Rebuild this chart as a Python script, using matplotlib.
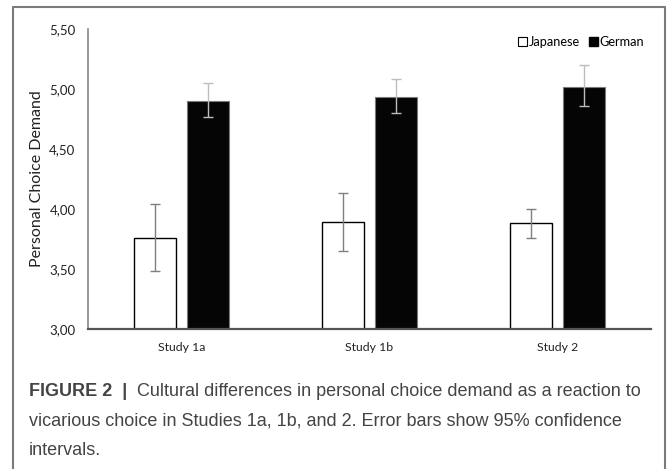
"""
Personal choice demand by culture (Figure 2 recreation).

Bar chart of Japanese vs German means with 95% CI error bars.
"""

import numpy as np
import matplotlib
matplotlib.use('Agg')
import matplotlib.pyplot as plt
from matplotlib.patches import Patch
from matplotlib.lines import Line2D

# Data
studies = ['Study 1a', 'Study 1b', 'Study 2']
japanese = [3.76, 3.89, 3.88]
japanese_lo = [3.48, 3.65, 3.76]
japanese_hi = [4.04, 4.13, 4.00]
german = [4.90, 4.93, 5.02]
german_lo = [4.77, 4.80, 4.86]
german_hi = [5.05, 5.08, 5.20]
yticks = [3.0, 3.5, 4.0, 4.5, 5.0, 5.5]
ytick_labels = ['3,00', '3,50', '4,00', '4,50', '5,00', '5,50']

caption_bold = 'FIGURE 2  |  '
caption_lines = [
    'Cultural differences in personal choice demand as a reaction to',
    'vicarious choice in Studies 1a, 1b, and 2. Error bars show 95% confidence',
    'intervals.',
]

W, H = 668, 469
CHART_FONT = 'Lato'
CAPTION_FONT = 'Liberation Sans'


def main():
    fig = plt.figure(figsize=(W / 100, H / 100), dpi=100)

    # axes placed in pixel terms
    left, right, top, bottom = 88, 651, 29, 329
    ax = fig.add_axes([left / W, 1 - bottom / H, (right - left) / W, (bottom - top) / H])

    x = np.arange(len(studies))
    width = 0.224
    offset = 0.141

    jp = np.array(japanese)
    de = np.array(german)
    jp_err = [jp - np.array(japanese_lo), np.array(japanese_hi) - jp]
    de_err = [de - np.array(german_lo), np.array(german_hi) - de]

    ax.bar(x - offset, jp, width, color='white', edgecolor='black',
           linewidth=1.0, zorder=2)
    ax.bar(x + offset, de, width, color='#050505', edgecolor='#7a7a7a',
           linewidth=0.8, zorder=2)

    ax.errorbar(x - offset, jp, yerr=jp_err, fmt='none', ecolor='#7f7f7f',
                elinewidth=1.0, capsize=3.5, capthick=1.0, zorder=3)
    ax.errorbar(x + offset, de, yerr=de_err, fmt='none', ecolor='#bdbdbd',
                elinewidth=1.0, capsize=3.5, capthick=1.0, zorder=3)

    ax.set_xlim(-0.5, len(studies) - 0.5)
    ax.set_ylim(3.0, 5.5)
    ax.set_yticks(yticks)
    ax.set_yticklabels(ytick_labels, fontfamily=CHART_FONT, fontsize=9.5, color='#222222')
    ax.set_xticks(x)
    ax.set_xticklabels(studies, fontfamily=CHART_FONT, fontsize=8.8, color='#222222')
    ax.tick_params(axis='both', length=0)
    ax.tick_params(axis='y', pad=9)
    ax.tick_params(axis='x', pad=9)

    for side in ['top', 'right']:
        ax.spines[side].set_visible(False)
    ax.spines['left'].set_color('#888888')
    ax.spines['left'].set_linewidth(1.2)
    ax.spines['bottom'].set_color('#555555')
    ax.spines['bottom'].set_linewidth(1.6)

    ax.set_ylabel('Personal Choice Demand', fontfamily=CHART_FONT, fontsize=11.5,
                  color='#222222')
    ax.yaxis.set_label_coords(-0.078, 0.5)

    handles = [
        Patch(facecolor='white', edgecolor='black', linewidth=0.8, label='Japanese'),
        Patch(facecolor='black', edgecolor='black', label='German'),
    ]
    ax.legend(handles=handles, loc='upper right', bbox_to_anchor=(0.997, 0.993),
              borderaxespad=0, ncol=2, frameon=False,
              handlelength=0.7, handleheight=0.7,
              handletextpad=0.15, columnspacing=0.7,
              prop={'family': CHART_FONT, 'size': 9.2})

    # frame around the figure panel (left, top, right)
    bx0, bx1, by = 13 / W, 665 / W, 1 - 7 / H
    fig.add_artist(Line2D([bx0, bx0, bx1, bx1], [0, by, by, 0],
                          color='#7a7a7a', linewidth=1.5, transform=fig.transFigure))

    # caption with bold lead-in
    renderer = fig.canvas.get_renderer()
    cap_x = 29 / W
    line_y = [392, 421, 450]
    cap_size = 13
    cap_color = '#444444'
    lead = fig.text(cap_x, 1 - line_y[0] / H, caption_bold, fontfamily=CAPTION_FONT,
                    fontsize=cap_size, fontweight='bold', color=cap_color, va='center')
    bb = lead.get_window_extent(renderer=renderer)
    fig.text(bb.x1 / W, 1 - line_y[0] / H, caption_lines[0], fontfamily=CAPTION_FONT,
             fontsize=cap_size, color=cap_color, va='center')
    for text, yy in zip(caption_lines[1:], line_y[1:]):
        fig.text(cap_x, 1 - yy / H, text, fontfamily=CAPTION_FONT,
                 fontsize=cap_size, color=cap_color, va='center')

    fig.savefig('out.png', dpi=100)


if __name__ == '__main__':
    main()
